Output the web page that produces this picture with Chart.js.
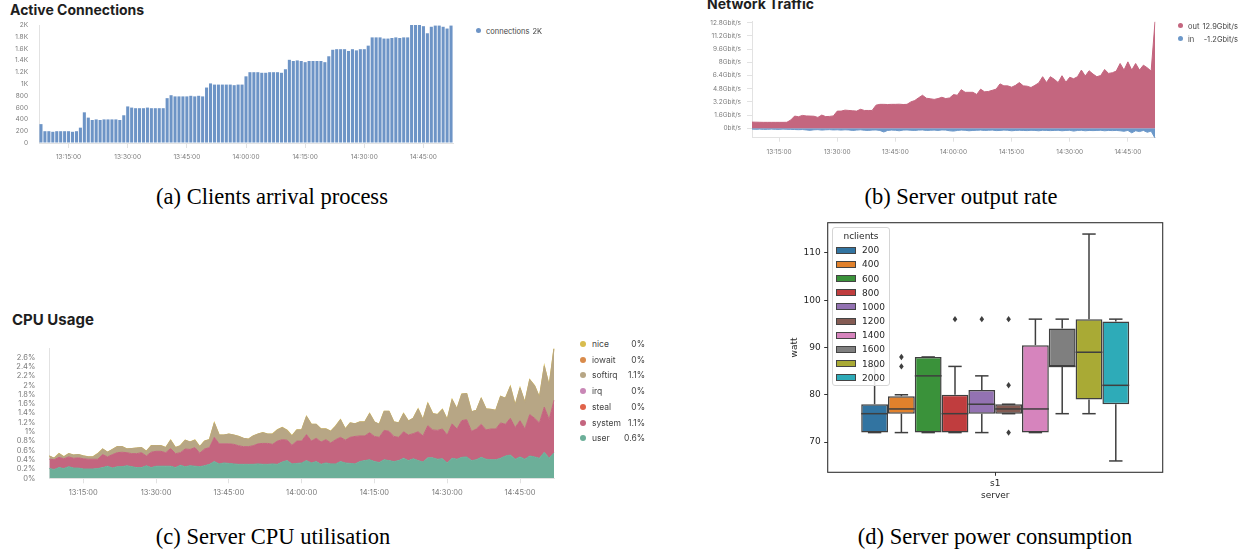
<!DOCTYPE html>
<html lang="en">
<head>
<meta charset="UTF-8">
<title>Load test figure</title>
<script src="https://cdn.jsdelivr.net/npm/chart.js"></script>
<style>
    body { margin: 0; width: 1247px; height: 552px; position: relative; overflow: hidden; background: #fff; font-family: Inter, sans-serif; }
    canvas { position: absolute; }
    .title { position: absolute; font-weight: 700; color: #1e1e1e; white-space: nowrap; }
    .cap { position: absolute; width: 400px; text-align: center; font-family: "Liberation Serif", serif; font-size: 22.5px; line-height: 24px; color: #000; }
    .txt { position: absolute; white-space: nowrap; transform: translateY(-50%); }
    .dot { position: absolute; width: 6px; height: 6px; border-radius: 50%; }
    .mpl-legend { position: absolute; left: 832px; top: 227px; width: 56px; height: 157px; border: 1px solid #d5d5d5; border-radius: 3px; background: rgba(255,255,255,0.85); }
    .patch { position: absolute; width: 18px; height: 5px; border: 1px solid #444; }
</style>
</head>
<body>
<div class="title" style="left:10px; top:3px; font-size:14px; line-height:14px;">Active Connections</div>
<div class="title" style="left:707px; top:-3px; font-size:14px; line-height:14px;">Network Traffic</div>
<div class="title" style="left:12px; top:312px; font-size:15px; line-height:15px;">CPU Usage</div>

<canvas id="connChart" width="470" height="170" style="left:0; top:0;"></canvas>
<canvas id="netChart" width="470" height="170" style="left:700px; top:0;"></canvas>
<canvas id="cpuChart" width="570" height="170" style="left:0; top:330px;"></canvas>
<canvas id="powerChart" width="400" height="300" style="left:780px; top:210px;"></canvas>
<div class="mpl-legend" id="powerLegend"></div>

<div class="cap" style="left:72px; top:185px;">(a) Clients arrival process</div>
<div class="cap" style="left:761px; top:185px;">(b) Server output rate</div>
<div class="cap" style="left:73px; top:525px;">(c) Server CPU utilisation</div>
<div class="cap" style="left:795px; top:525px;">(d) Server power consumption</div>

<script>
    // one sample per minute, 13:08 .. 14:52
    const startMinute = 13 * 60 + 8;
    const sampleCount = 105;
    const timeLabels = Array.from({length: sampleCount}, (_, i) => {
        const m = startMinute + i;
        return Math.floor(m / 60) + ':' + String(m % 60).padStart(2, '0') + ':00';
    });

    // (a) active connections
    const connections = [
        320, 200, 200, 190, 200, 200, 200, 200, 190, 200,
        260, 520, 430, 390, 400, 390, 400, 400, 400, 400,
        390, 470, 620, 600, 590, 590, 590, 600, 590, 590,
        590, 590, 760, 810, 790, 790, 790, 790, 800, 790,
        800, 790, 940, 1010, 990, 990, 990, 990, 990, 980,
        990, 990, 1130, 1200, 1200, 1200, 1190, 1190, 1200, 1200,
        1200, 1190, 1250, 1410, 1390, 1400, 1390, 1370, 1390, 1390,
        1390, 1390, 1370, 1470, 1580, 1590, 1590, 1590, 1560, 1590,
        1570, 1590, 1590, 1650, 1790, 1790, 1790, 1770, 1770, 1780,
        1790, 1780, 1790, 1790, 2000, 2000, 2000, 1980, 1860, 1970,
        1990, 1990, 1970, 1940, 1990
    ];
    const connTicks = [0, 200, 400, 600, 800, 1000, 1200, 1400, 1600, 1800, 2000];

    // (b) network traffic, Gbit/s
    const trafficOut = [
        0.75, 0.74, 0.73, 0.72, 0.72, 0.72, 0.72, 0.72, 0.72, 0.73,
        1.0, 1.48, 1.4, 1.56, 1.5, 1.48, 1.46, 1.32, 1.6, 1.42,
        1.44, 1.5, 2.08, 2.08, 2.2, 2.16, 2.12, 2.08, 2.3, 2.16,
        2.16, 2.16, 2.8, 2.9, 2.9, 2.88, 2.9, 2.9, 2.92, 2.88,
        2.9, 3.2, 3.36, 3.7, 4.0, 3.64, 3.58, 3.5, 3.6, 3.76,
        3.6, 3.68, 4.08, 4.0, 4.68, 4.36, 4.36, 4.36, 4.1, 4.74,
        4.42, 4.46, 4.6, 4.74, 5.38, 5.14, 5.14, 4.98, 5.2, 5.54,
        5.14, 5.1, 4.94, 5.2, 5.5, 6.25, 5.54, 6.25, 5.94, 5.54,
        6.37, 5.58, 6.18, 6.0, 6.25, 7.05, 6.33, 6.97, 6.57, 6.25,
        6.4, 7.13, 6.65, 6.73, 6.93, 7.85, 7.05, 8.05, 7.05, 7.85,
        7.05, 7.65, 7.33, 6.93, 12.9
    ];
    const trafficIn = [
        -0.1, -0.12, -0.1, -0.13, -0.12, -0.1, -0.12, -0.13, -0.1, -0.12,
        -0.13, -0.15, -0.17, -0.15, -0.2, -0.25, -0.18, -0.16, -0.22, -0.18,
        -0.16, -0.2, -0.18, -0.22, -0.18, -0.2, -0.26, -0.22, -0.18, -0.24,
        -0.26, -0.22, -0.2, -0.26, -0.45, -0.26, -0.22, -0.24, -0.3, -0.22,
        -0.2, -0.24, -0.26, -0.22, -0.2, -0.26, -0.24, -0.22, -0.26, -0.2,
        -0.22, -0.3, -0.34, -0.26, -0.22, -0.24, -0.3, -0.26, -0.24, -0.22,
        -0.26, -0.24, -0.22, -0.28, -0.26, -0.22, -0.24, -0.3, -0.26, -0.24,
        -0.26, -0.28, -0.24, -0.26, -0.3, -0.24, -0.26, -0.28, -0.26, -0.24,
        -0.3, -0.26, -0.24, -0.34, -0.26, -0.24, -0.3, -0.26, -0.28, -0.26,
        -0.24, -0.3, -0.26, -0.28, -0.26, -0.3, -0.36, -0.26, -0.55, -0.3,
        -0.4, -0.26, -0.48, -0.34, -1.2
    ];
    const netTicks = [0, 1.6, 3.2, 4.8, 6.4, 8, 9.6, 11.2, 12.8];

    // (c) cpu usage, percent
    const cpuUser = [
        0.21, 0.19, 0.23, 0.21, 0.25, 0.22, 0.22, 0.20, 0.20, 0.20,
        0.21, 0.23, 0.26, 0.22, 0.25, 0.25, 0.27, 0.25, 0.23, 0.23,
        0.27, 0.23, 0.26, 0.26, 0.26, 0.26, 0.23, 0.28, 0.25, 0.27,
        0.26, 0.25, 0.27, 0.30, 0.36, 0.31, 0.33, 0.32, 0.31, 0.30,
        0.30, 0.30, 0.30, 0.31, 0.30, 0.30, 0.31, 0.30, 0.35, 0.38,
        0.31, 0.32, 0.33, 0.38, 0.33, 0.36, 0.30, 0.33, 0.31, 0.31,
        0.36, 0.33, 0.32, 0.31, 0.36, 0.38, 0.40, 0.36, 0.34, 0.40,
        0.38, 0.36, 0.38, 0.43, 0.38, 0.42, 0.38, 0.35, 0.44, 0.44,
        0.41, 0.42, 0.33, 0.43, 0.41, 0.45, 0.46, 0.38, 0.40, 0.45,
        0.41, 0.40, 0.40, 0.43, 0.48, 0.50, 0.41, 0.46, 0.41, 0.48,
        0.46, 0.43, 0.56, 0.43, 0.55
    ];
    const cpuSystem = [
        0.20, 0.21, 0.22, 0.21, 0.21, 0.21, 0.22, 0.22, 0.21, 0.21,
        0.20, 0.28, 0.20, 0.29, 0.30, 0.31, 0.28, 0.28, 0.30, 0.32,
        0.21, 0.33, 0.32, 0.32, 0.29, 0.38, 0.30, 0.27, 0.38, 0.35,
        0.40, 0.29, 0.36, 0.36, 0.52, 0.43, 0.41, 0.42, 0.42, 0.40,
        0.38, 0.38, 0.40, 0.43, 0.45, 0.45, 0.42, 0.50, 0.48, 0.44,
        0.40, 0.48, 0.47, 0.56, 0.47, 0.50, 0.48, 0.50, 0.45, 0.52,
        0.52, 0.49, 0.56, 0.59, 0.55, 0.53, 0.58, 0.54, 0.54, 0.63,
        0.63, 0.54, 0.50, 0.57, 0.55, 0.54, 0.62, 0.56, 0.69, 0.60,
        0.62, 0.64, 0.60, 0.74, 0.65, 0.79, 0.80, 0.63, 0.66, 0.71,
        0.63, 0.66, 0.66, 0.76, 0.68, 0.79, 0.68, 0.78, 0.65, 0.89,
        0.83, 0.76, 0.97, 0.83, 1.13
    ];
    const cpuSoftirq = [
        0.07, 0.03, 0.08, 0.04, 0.07, 0.07, 0.07, 0.06, 0.05, 0.05,
        0.12, 0.12, 0.10, 0.11, 0.13, 0.12, 0.08, 0.11, 0.12, 0.11,
        0.10, 0.14, 0.12, 0.12, 0.11, 0.18, 0.13, 0.15, 0.19, 0.16,
        0.16, 0.14, 0.17, 0.17, 0.31, 0.19, 0.19, 0.21, 0.20, 0.20,
        0.18, 0.16, 0.21, 0.21, 0.23, 0.20, 0.22, 0.24, 0.26, 0.21,
        0.20, 0.24, 0.24, 0.39, 0.36, 0.30, 0.28, 0.23, 0.25, 0.29,
        0.38, 0.24, 0.31, 0.27, 0.30, 0.30, 0.41, 0.31, 0.28, 0.41,
        0.43, 0.31, 0.31, 0.39, 0.30, 0.33, 0.49, 0.35, 0.48, 0.35,
        0.34, 0.42, 0.33, 0.52, 0.43, 0.57, 0.56, 0.42, 0.40, 0.56,
        0.45, 0.42, 0.40, 0.57, 0.56, 0.68, 0.48, 0.70, 0.57, 0.75,
        0.70, 0.55, 0.88, 0.73, 1.11
    ];
    // nice, iowait, irq and steal stay at 0% for the whole run
    const cpuIdleSeries = timeLabels.map(() => 0);
    const cpuTicks = [0, 0.2, 0.4, 0.6, 0.8, 1, 1.2, 1.4, 1.6, 1.8, 2, 2.2, 2.4, 2.6];
    const cpuLegend = [
        ['nice', '0%', '#d8bc4e'],
        ['iowait', '0%', '#d98b4b'],
        ['softirq', '1.1%', '#b7a685'],
        ['irq', '0%', '#c987b6'],
        ['steal', '0%', '#e0634a'],
        ['system', '1.1%', '#c4657f'],
        ['user', '0.6%', '#6caf99']
    ];

    // (d) power box plot, watt
    const nclients = [200, 400, 600, 800, 1000, 1200, 1400, 1600, 1800, 2000];
    const boxQ1 = [72, 76, 72, 72, 76, 76, 72, 86, 79, 78];
    const boxQ3 = [78, 79.7, 88, 80, 81, 78, 90.5, 94, 96, 95.5];
    const boxMed = [76, 77, 84, 76, 78, 77, 77, 86, 89, 82];
    const whiskLo = [72, 72, 72, 72, 72, 76, 72, 76, 76, 66];
    const whiskHi = [86, 80, 88, 86, 84, 78, 96, 96, 114, 96];
    const fliers = [[], [86, 88], [], [96], [96], [72, 82, 96], [], [], [], []];
    const powerTicks = [70, 80, 90, 100, 110];
    const boxColors = ['#3274a1', '#e1812c', '#3a923a', '#c03d3e', '#9372b2',
                       '#845b53', '#d684bd', '#7f7f7f', '#a9aa35', '#2eabb8'];

    Chart.defaults.font.family = 'Inter, sans-serif';
    Chart.defaults.color = '#7a7a7a';
    Chart.defaults.animation = false;
    Chart.defaults.plugins.legend.display = false;
    Chart.defaults.plugins.tooltip.enabled = false;

    const axisGray = '#e2e2e2';

    // only label the quarter hours
    function quarterHour(value, index) {
        const label = timeLabels[index];
        return Number(label.slice(-5, -3)) % 15 === 0 ? label : null;
    }

    function timeAxis(fontSize, tickLength, padding, height) {
        return {
            grid: { offset: false, drawOnChartArea: false, tickLength: tickLength, color: axisGray },
            border: { color: axisGray },
            ticks: { autoSkip: false, maxRotation: 0, padding: padding, font: { size: fontSize }, callback: quarterHour },
            afterFit: scale => { scale.height = height; }
        };
    }

    function fixedTicks(list) {
        return scale => { scale.ticks = list.map(v => ({ value: v })); };
    }

    // html legends and labels
    function addText(text, x, y, style, alignRight) {
        const el = document.createElement('div');
        el.className = 'txt';
        el.textContent = text;
        el.style.cssText += style;
        el.style.top = y + 'px';
        if (alignRight) {
            el.style.left = (x - 200) + 'px';
            el.style.width = '200px';
            el.style.textAlign = 'right';
        } else {
            el.style.left = x + 'px';
        }
        document.body.appendChild(el);
    }

    function addDot(color, x, y, size) {
        const el = document.createElement('div');
        el.className = 'dot';
        el.style.background = color;
        el.style.width = el.style.height = size + 'px';
        el.style.left = (x - size / 2) + 'px';
        el.style.top = (y - size / 2) + 'px';
        document.body.appendChild(el);
    }

    // (a)
    new Chart(document.getElementById('connChart'), {
        type: 'bar',
        data: {
            labels: timeLabels,
            datasets: [{ data: connections, backgroundColor: '#6d94c6', barPercentage: 0.78, categoryPercentage: 1 }]
        },
        options: {
            responsive: false,
            layout: { padding: { top: 25, right: 17, left: 0, bottom: 0 } },
            scales: {
                x: timeAxis(6.5, 5, 5, 27),
                y: {
                    min: 0, max: 2000,
                    afterBuildTicks: fixedTicks(connTicks),
                    grid: { drawOnChartArea: false, drawTicks: false },
                    border: { color: axisGray },
                    ticks: { autoSkip: false, padding: 11, font: { size: 6.5 }, callback: v => v < 1000 ? v : (v / 1000) + 'K' },
                    afterFit: scale => { scale.width = 39; }
                }
            }
        }
    });
    addDot('#6d94c6', 478, 30.5, 5);
    addText('connections', 486, 30.5, 'font-size:7.5px;color:#444;');
    addText('2K', 542, 30.5, 'font-size:7.5px;color:#444;', true);

    // (b)
    new Chart(document.getElementById('netChart'), {
        type: 'line',
        data: {
            labels: timeLabels,
            datasets: [
                { data: trafficOut, borderColor: '#c4667f', backgroundColor: '#c4667f', fill: 'origin', borderWidth: 1, pointRadius: 0 },
                { data: trafficIn, borderColor: '#6c98c9', backgroundColor: '#6c98c9', fill: 'origin', borderWidth: 1, pointRadius: 0 }
            ]
        },
        options: {
            responsive: false,
            layout: { padding: { top: 21, right: 15, left: 0, bottom: 0 } },
            scales: {
                x: timeAxis(6.5, 4, 6, 32.3),
                y: {
                    min: -1.14, max: 13.0,
                    afterBuildTicks: fixedTicks(netTicks),
                    grid: { drawOnChartArea: false, tickLength: 5, color: axisGray },
                    border: { color: axisGray },
                    ticks: { autoSkip: false, padding: 6, font: { size: 6.5 }, callback: v => v === 0 ? '0bit/s' : v + 'Gbit/s' },
                    afterFit: scale => { scale.width = 52; }
                }
            }
        }
    });
    addDot('#c4667f', 1180, 25.7, 5);
    addText('out', 1188, 25.7, 'font-size:7.5px;color:#444;');
    addText('12.9Gbit/s', 1238, 25.7, 'font-size:7.5px;color:#444;', true);
    addDot('#6c98c9', 1180, 38.7, 5);
    addText('in', 1188, 38.7, 'font-size:7.5px;color:#444;');
    addText('-1.2Gbit/s', 1238, 38.7, 'font-size:7.5px;color:#444;', true);

    // (c) stacked from the bottom: user, system, steal, irq, softirq, iowait, nice
    const stackArea = (data, color, fill, width) => ({
        data: data, borderColor: color, backgroundColor: color, fill: fill, borderWidth: width, pointRadius: 0
    });
    new Chart(document.getElementById('cpuChart'), {
        type: 'line',
        data: {
            labels: timeLabels,
            datasets: [
                stackArea(cpuUser, '#6caf99', 'origin', 1),
                stackArea(cpuSystem, '#c4657f', '-1', 1),
                stackArea(cpuIdleSeries, '#e0634a', false, 0),
                stackArea(cpuIdleSeries, '#c987b6', false, 0),
                stackArea(cpuSoftirq, '#b7a685', '-1', 1),
                stackArea(cpuIdleSeries, '#d98b4b', false, 0),
                stackArea(cpuIdleSeries, '#d8bc4e', false, 1.3)
            ]
        },
        options: {
            responsive: false,
            layout: { padding: { top: 8, right: 16, left: 0, bottom: 0 } },
            scales: {
                x: timeAxis(7.5, 5, 5, 21.7),
                y: {
                    stacked: true,
                    min: 0, max: 2.79,
                    afterBuildTicks: fixedTicks(cpuTicks),
                    grid: { drawOnChartArea: false, drawTicks: false },
                    border: { color: axisGray },
                    ticks: { autoSkip: false, padding: 14, font: { size: 7.5 }, callback: v => (+v.toFixed(1)) + '%' },
                    afterFit: scale => { scale.width = 49.3; }
                }
            }
        }
    });
    cpuLegend.forEach(([name, value, color], k) => {
        const y = 344 + k * 15.7;
        addDot(color, 583.3, y, 6);
        addText(name, 592, y, 'font-size:8.5px;color:#444;');
        addText(value, 645, y, 'font-size:8.5px;color:#444;', true);
    });

    // (d) boxes are floating bars, the rest is drawn on the same scales
    const lineColor = '#3f3f3f';
    const framePlugin = {
        id: 'frame',
        afterDatasetsDraw(chart) {
            const { ctx, chartArea: a } = chart;
            ctx.save();
            ctx.strokeStyle = '#333';
            ctx.lineWidth = 1.1;
            ctx.strokeRect(a.left, a.top, a.right - a.left, a.bottom - a.top);
            ctx.restore();
        }
    };
    const boxPlugin = {
        id: 'boxParts',
        afterDatasetsDraw(chart) {
            const { ctx } = chart;
            const y = chart.scales.y;
            const seg = (x1, y1, x2, y2) => { ctx.beginPath(); ctx.moveTo(x1, y1); ctx.lineTo(x2, y2); ctx.stroke(); };
            ctx.save();
            ctx.strokeStyle = lineColor;
            ctx.fillStyle = lineColor;
            ctx.lineWidth = 1.5;
            chart.data.datasets.forEach((ds, i) => {
                const bar = chart.getDatasetMeta(i).data[0];
                const cx = bar.x, half = bar.width / 2;
                const yMed = y.getPixelForValue(boxMed[i]);
                seg(cx - half, yMed, cx + half, yMed);
                const yQ1 = y.getPixelForValue(boxQ1[i]);
                const yQ3 = y.getPixelForValue(boxQ3[i]);
                const yLo = y.getPixelForValue(whiskLo[i]);
                const yHi = y.getPixelForValue(whiskHi[i]);
                if (yHi < yQ3) seg(cx, yQ3, cx, yHi);
                if (yLo > yQ1) seg(cx, yQ1, cx, yLo);
                seg(cx - half / 2, yHi, cx + half / 2, yHi);
                seg(cx - half / 2, yLo, cx + half / 2, yLo);
                fliers[i].forEach(v => {
                    const fy = y.getPixelForValue(v);
                    ctx.beginPath();
                    ctx.moveTo(cx, fy - 3.2);
                    ctx.lineTo(cx + 2.3, fy);
                    ctx.lineTo(cx, fy + 3.2);
                    ctx.lineTo(cx - 2.3, fy);
                    ctx.closePath();
                    ctx.fill();
                });
            });
            ctx.restore();
        }
    };
    const mplFont = { family: '"DejaVu Sans", sans-serif', size: 9 };
    new Chart(document.getElementById('powerChart'), {
        type: 'bar',
        data: {
            labels: ['s1'],
            datasets: nclients.map((n, i) => ({
                label: String(n),
                data: [[boxQ1[i], boxQ3[i]]],
                backgroundColor: boxColors[i],
                borderColor: lineColor,
                borderWidth: 1.5,
                borderSkipped: false,
                barPercentage: 1,
                categoryPercentage: 0.8
            }))
        },
        options: {
            responsive: false,
            layout: { padding: { top: 12.7, right: 17.3, left: 0, bottom: 0 } },
            scales: {
                x: {
                    grid: { offset: false, drawOnChartArea: false, tickLength: 3.5, color: '#333' },
                    border: { display: false },
                    ticks: { padding: 2.5, color: '#262626', font: mplFont },
                    title: { display: true, text: 'server', color: '#262626', font: mplFont, padding: { top: 0, bottom: 8.6 } },
                    afterFit: scale => { scale.height = 37.7; }
                },
                y: {
                    min: 63.6, max: 116.4,
                    afterBuildTicks: fixedTicks(powerTicks),
                    grid: { drawOnChartArea: false, tickLength: 3.5, color: '#333' },
                    border: { display: false },
                    ticks: { autoSkip: false, padding: 3.5, color: '#262626', font: mplFont },
                    title: { display: true, text: 'watt', color: '#262626', font: mplFont, padding: { top: 9.6, bottom: 0 } },
                    afterFit: scale => { scale.width = 47.7; }
                }
            }
        },
        plugins: [framePlugin, boxPlugin]
    });

    // matplotlib style legend
    const legendBox = document.getElementById('powerLegend');
    const legTitle = document.createElement('div');
    legTitle.className = 'txt';
    legTitle.textContent = 'nclients';
    legTitle.style.cssText += 'left:0;width:56px;text-align:center;top:8px;font:9px "DejaVu Sans";color:#262626;';
    legendBox.appendChild(legTitle);
    nclients.forEach((n, k) => {
        const y = 22.3 + k * 14.15;
        const patch = document.createElement('div');
        patch.className = 'patch';
        patch.style.background = boxColors[k];
        patch.style.left = '3px';
        patch.style.top = (y - 3.5) + 'px';
        legendBox.appendChild(patch);
        const label = document.createElement('div');
        label.className = 'txt';
        label.textContent = n;
        label.style.cssText += 'left:29px;top:' + y + 'px;font:9px "DejaVu Sans";color:#262626;';
        legendBox.appendChild(label);
    });
</script>
</body>
</html>
